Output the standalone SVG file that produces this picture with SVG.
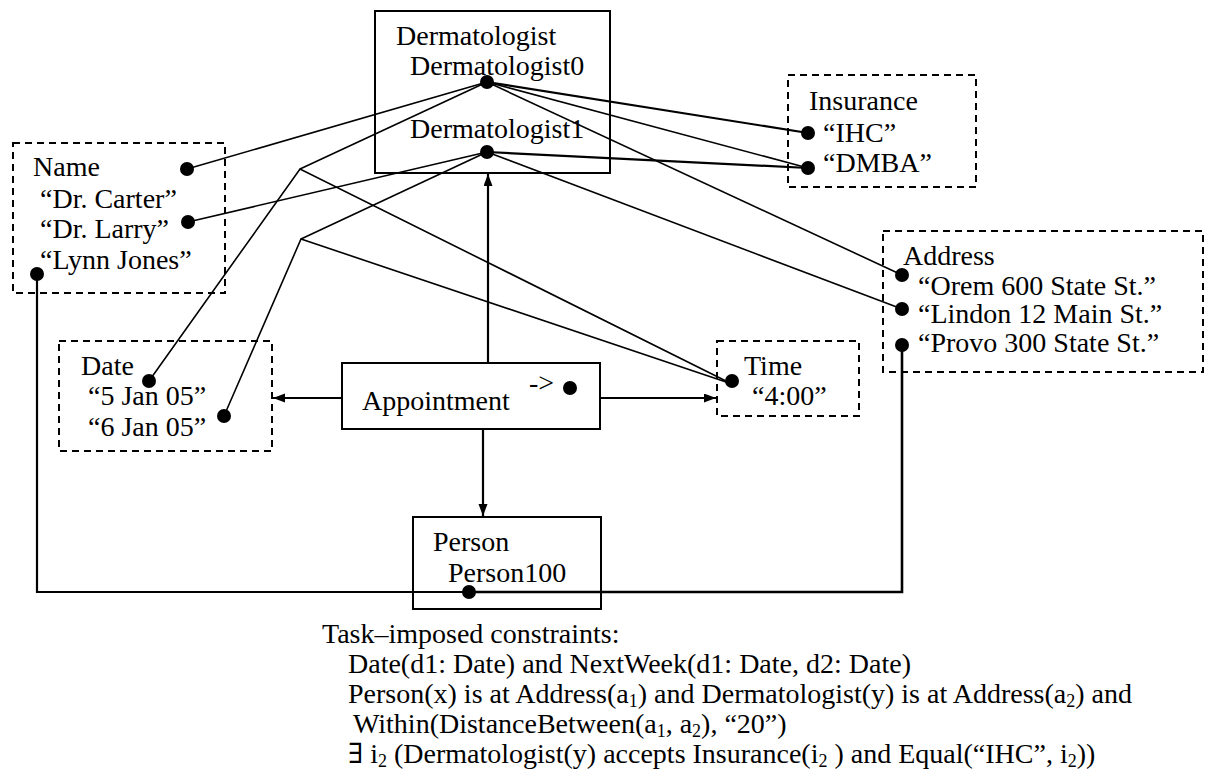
<svg xmlns="http://www.w3.org/2000/svg" width="1211" height="776" viewBox="0 0 1211 776">
  <style>
    text { font-family: "Liberation Serif", "Times New Roman", "DejaVu Serif", serif; font-size: 28px; fill: #000; }
    .box { fill: none; stroke: #000; stroke-width: 2; }
    .dash { stroke-dasharray: 7 5; }
    .ln { fill: none; stroke: #000; stroke-width: 1.6; }
    .thick { stroke-width: 2.2; }
    .dot { fill: #000; }
    .sub { font-size: 18px; baseline-shift: -4px; }
  </style>
  <defs>
    <marker id="arrow" markerUnits="userSpaceOnUse" markerWidth="13" markerHeight="10" refX="12" refY="4.5" orient="auto">
      <path d="M0,0 L12,4.5 L0,9 z" fill="#000"/>
    </marker>
  </defs>
  <rect width="1211" height="776" fill="#fff"/>

  <!-- connectors -->
  <g id="connectors">
    <!-- Dermatologist0 links -->
    <line class="ln" x1="487" y1="82" x2="187" y2="169"/>
    <line class="ln" x1="487" y1="82" x2="300" y2="169"/>
    <line class="ln thick" x1="487" y1="82" x2="808" y2="133"/>
    <line class="ln" x1="487" y1="82" x2="808" y2="168"/>
    <line class="ln" x1="487" y1="82" x2="902" y2="275"/>
    <!-- Dermatologist1 links -->
    <line class="ln" x1="487" y1="152" x2="188" y2="222"/>
    <line class="ln" x1="487" y1="152" x2="301" y2="239"/>
    <line class="ln thick" x1="487" y1="152" x2="808" y2="168"/>
    <line class="ln" x1="487" y1="152" x2="902" y2="309"/>
    <!-- date / time joints -->
    <polyline class="ln" points="149,381 300,169 732,384"/>
    <polyline class="ln" points="224,416 301,239 732,384"/>
    <!-- Appointment relationships -->
    <line class="ln thick" x1="488" y1="363" x2="488" y2="174" marker-end="url(#arrow)"/>
    <line class="ln thick" x1="342" y1="398" x2="273" y2="398" marker-end="url(#arrow)"/>
    <line class="ln thick" x1="600" y1="398" x2="716" y2="398" marker-end="url(#arrow)"/>
    <line class="ln thick" x1="483" y1="429" x2="483" y2="516" marker-end="url(#arrow)"/>
    <!-- Person100 to name and address -->
    <polyline class="ln thick" points="37,274 37,592 469,592"/>
    <polyline class="ln" style="stroke-width:2.6" points="469,592 902,592 902,345"/>
  </g>

  <g id="dermatologist">
    <rect class="box" x="375" y="11" width="235" height="162"/>
    <text x="396" y="45">Dermatologist</text>
    <text x="410" y="75">Dermatologist0</text>
    <text x="410" y="138">Dermatologist1</text>
    <circle class="dot" cx="487" cy="82" r="7"/>
    <circle class="dot" cx="487" cy="152" r="7"/>
  </g>

  <g id="name">
    <rect class="box dash" x="13" y="143" width="212" height="150"/>
    <text x="33" y="176">Name</text>
    <text x="40" y="208">“Dr. Carter”</text>
    <text x="40" y="238">“Dr. Larry”</text>
    <text x="40" y="269">“Lynn Jones”</text>
    <circle class="dot" cx="187" cy="169" r="7"/>
    <circle class="dot" cx="188" cy="222" r="7"/>
    <circle class="dot" cx="37" cy="274" r="7"/>
  </g>

  <g id="insurance">
    <rect class="box dash" x="788" y="75" width="188" height="112"/>
    <text x="809" y="110">Insurance</text>
    <text x="823" y="142">“IHC”</text>
    <text x="823" y="172">“DMBA”</text>
    <circle class="dot" cx="808" cy="133" r="7"/>
    <circle class="dot" cx="808" cy="168" r="7"/>
  </g>

  <g id="address">
    <rect class="box dash" x="883" y="231" width="320" height="141"/>
    <text x="903" y="265">Address</text>
    <text x="918" y="295">“Orem 600 State St.”</text>
    <text x="918" y="323">“Lindon 12 Main St.”</text>
    <text x="918" y="352">“Provo 300 State St.”</text>
    <circle class="dot" cx="902" cy="275" r="7"/>
    <circle class="dot" cx="902" cy="309" r="7"/>
    <circle class="dot" cx="902" cy="345" r="7"/>
  </g>

  <g id="date">
    <rect class="box dash" x="59" y="341" width="213" height="110"/>
    <text x="81" y="375">Date</text>
    <text x="88" y="405">“5 Jan 05”</text>
    <text x="88" y="436">“6 Jan 05”</text>
    <circle class="dot" cx="149" cy="381" r="7"/>
    <circle class="dot" cx="224" cy="416" r="7"/>
  </g>

  <g id="time">
    <rect class="box dash" x="717" y="341" width="142" height="75"/>
    <text x="744" y="375">Time</text>
    <text x="752" y="405">“4:00”</text>
    <circle class="dot" cx="732" cy="381" r="7"/>
  </g>

  <g id="appointment">
    <rect class="box" x="342" y="363" width="258" height="66"/>
    <text x="362" y="410">Appointment</text>
    <text x="529" y="392">-&gt;</text>
    <circle class="dot" cx="570" cy="388" r="7"/>
  </g>

  <g id="person">
    <rect class="box" x="413" y="517" width="188" height="92"/>
    <text x="433" y="551">Person</text>
    <text x="448" y="582">Person100</text>
    <circle class="dot" cx="469" cy="592" r="7"/>
  </g>

  <g id="constraints">
    <text x="322" y="643">Task–imposed constraints:</text>
    <text x="348" y="673">Date(d1: Date) and NextWeek(d1: Date, d2: Date)</text>
    <text x="348" y="703">Person(x) is at Address(a<tspan class="sub">1</tspan>) and Dermatologist(y) is at Address(a<tspan class="sub">2</tspan>) and</text>
    <text x="353" y="733">Within(DistanceBetween(a<tspan class="sub">1</tspan>, a<tspan class="sub">2</tspan>), “20”)</text>
    <text x="348" y="763">∃ i<tspan class="sub">2</tspan> (Dermatologist(y) accepts Insurance(i<tspan class="sub">2</tspan> ) and Equal(“IHC”, i<tspan class="sub">2</tspan>))</text>
  </g>
</svg>
